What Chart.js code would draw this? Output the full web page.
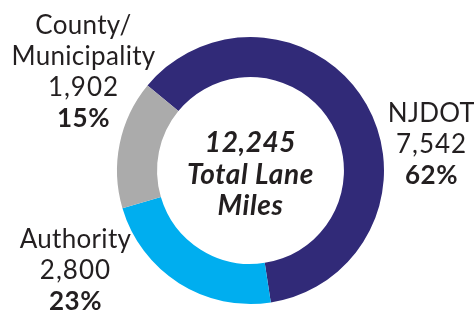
<!DOCTYPE html>
<html>
<head>
<meta charset="utf-8">
<script src="https://cdn.jsdelivr.net/npm/chart.js@4/dist/chart.umd.min.js"></script>
<style>
html,body{margin:0;padding:0;background:#fff;}
#wrap{width:474px;height:316px;position:relative;}
</style>
</head>
<body>
<div id="wrap"><canvas id="c" width="474" height="316"></canvas></div>
<script>
const categories = ["NJDOT", "Authority", "County/\nMunicipality"];
const laneMiles = [7542, 2800, 1902];
const valueLabels = ["7,542", "2,800", "1,902"];
const pctLabels = ["62%", "23%", "15%"];
const centerLines = ["12,245", "Total Lane", "Miles"];
const colors = ["#312a78", "#00aeef", "#ababab"];

const FONT = "Lato, 'Open Sans', sans-serif";
const TEXT = "#231f20";
// label anchors: horizontal center and first baseline, in units of outer radius from center
const anchors = [
  {dx: 1.356, dy: -0.363},
  {dx: -1.311, dy: 0.58},
  {dx: -1.251, dy: -1.022}
];

const labelPlugin = {
  id: 'labels',
  afterDraw(chart) {
    const ctx = chart.ctx;
    const meta = chart.getDatasetMeta(0);
    const arc0 = meta.data[0];
    const cx = arc0.x, cy = arc0.y, r = arc0.outerRadius;
    ctx.save();
    ctx.fillStyle = TEXT;
    ctx.textAlign = 'center';
    ctx.textBaseline = 'alphabetic';
    const lh = 31;
    categories.forEach((cat, i) => {
      const lines = cat.split('\n');
      const x = cx + anchors[i].dx * r;
      let y = cy + anchors[i].dy * r;
      ctx.font = "26px " + FONT;
      ctx.letterSpacing = "0.3px";
      lines.forEach(l => { ctx.fillText(l, x, y); y += lh; });
      ctx.letterSpacing = "1px";
      ctx.fillText(valueLabels[i], x, y); y += lh;
      ctx.font = "bold 26px " + FONT;
      ctx.letterSpacing = "0.5px";
      ctx.fillText(pctLabels[i], x, y);
    });
    ctx.font = "italic bold 28px " + FONT;
    ctx.letterSpacing = "0.6px";
    const offs = [-18.5, 13.5, 44.5];
    centerLines.forEach((l, i) => ctx.fillText(l, cx, cy + offs[i]));
    ctx.restore();
  }
};

new Chart(document.getElementById('c'), {
  type: 'doughnut',
  data: {
    labels: categories,
    datasets: [{
      data: laneMiles,
      backgroundColor: colors,
      borderWidth: 0
    }]
  },
  options: {
    responsive: false,
    animation: false,
    cutout: '70%',
    rotation: -50.5,
    layout: {padding: {top: 37, bottom: 12, left: 117, right: 90}},
    plugins: {legend: {display: false}, tooltip: {enabled: false}}
  },
  plugins: [labelPlugin]
});
</script>
</body>
</html>
